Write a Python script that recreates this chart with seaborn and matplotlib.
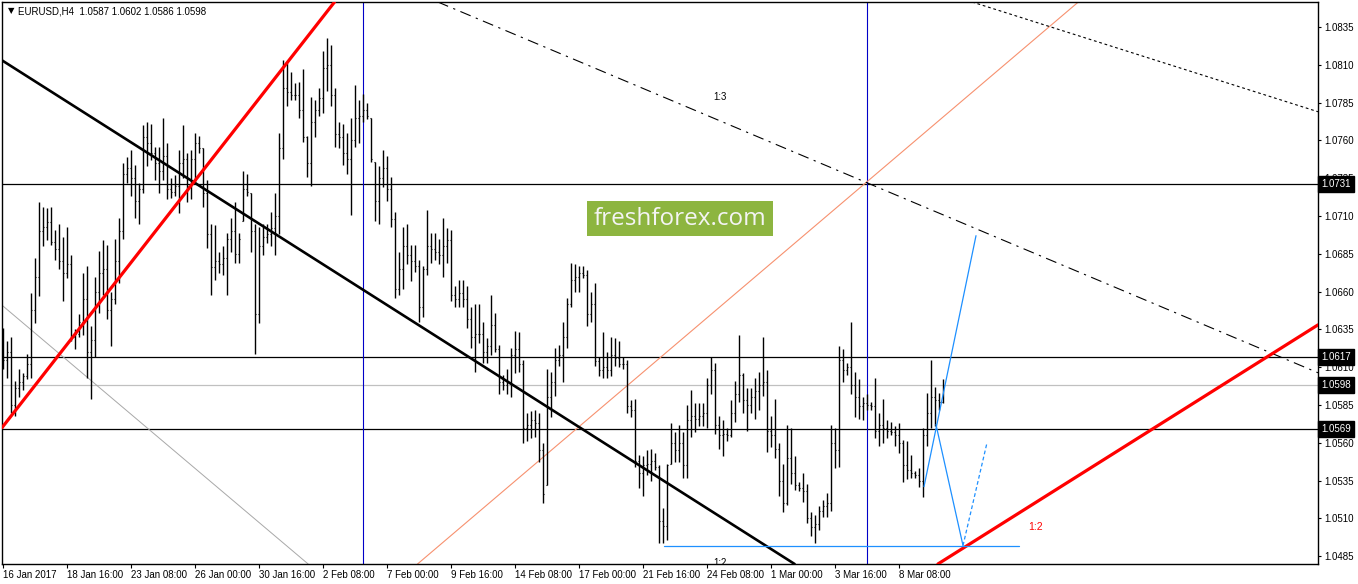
import numpy as np
import pandas as pd
import matplotlib
matplotlib.use("Agg")
import matplotlib.pyplot as plt
from matplotlib.patches import Rectangle
import seaborn as sns

# EURUSD H4 bars (one bar per 4 hours, weekends skipped)
highs = [1.0636, 1.0627, 1.0630, 1.0601, 1.0609, 1.0606, 1.0619, 1.0659, 1.0682, 1.0719,
         1.0716, 1.0715, 1.0716, 1.0701, 1.0705, 1.0696, 1.0703, 1.0684, 1.0635, 1.0645,
         1.0672, 1.0677, 1.0637, 1.0670, 1.0687, 1.0694, 1.0691, 1.0660, 1.0695, 1.0709,
         1.0745, 1.0749, 1.0754, 1.0744, 1.0732, 1.0770, 1.0772, 1.0771, 1.0756, 1.0756,
         1.0775, 1.0758, 1.0735, 1.0737, 1.0754, 1.0770, 1.0752, 1.0754, 1.0765, 1.0763,
         1.0755, 1.0734, 1.0705, 1.0704, 1.0686, 1.0690, 1.0699, 1.0709, 1.0719, 1.0699,
         1.0740, 1.0738, 1.0725, 1.0705, 1.0703, 1.0705, 1.0705, 1.0713, 1.0725, 1.0765,
         1.0813, 1.0811, 1.0805, 1.0798, 1.0799, 1.0807, 1.0763, 1.0789, 1.0787, 1.0795,
         1.0819, 1.0828, 1.0823, 1.0795, 1.0772, 1.0771, 1.0765, 1.0775, 1.0797, 1.0787,
         1.0791, 1.0785, 1.0775, 1.0746, 1.0743, 1.0754, 1.0750, 1.0736, 1.0713, 1.0686,
         1.0703, 1.0705, 1.0691, 1.0691, 1.0681, 1.0677, 1.0714, 1.0699, 1.0699, 1.0695,
         1.0709, 1.0702, 1.0701, 1.0664, 1.0668, 1.0668, 1.0664, 1.0650, 1.0652, 1.0652,
         1.0640, 1.0629, 1.0658, 1.0646, 1.0625, 1.0605, 1.0609, 1.0623, 1.0634, 1.0633,
         1.0615, 1.0580, 1.0581, 1.0582, 1.0580, 1.0560, 1.0609, 1.0607, 1.0623, 1.0625,
         1.0640, 1.0656, 1.0679, 1.0678, 1.0677, 1.0677, 1.0674, 1.0660, 1.0666, 1.0617,
         1.0633, 1.0620, 1.0630, 1.0629, 1.0627, 1.0617, 1.0615, 1.0588, 1.0589, 1.0552,
         1.0551, 1.0555, 1.0556, 1.0553, 1.0545, 1.0517, 1.0546, 1.0573, 1.0567, 1.0572,
         1.0567, 1.0585, 1.0595, 1.0586, 1.0586, 1.0586, 1.0603, 1.0617, 1.0613, 1.0578,
         1.0575, 1.0570, 1.0588, 1.0601, 1.0631, 1.0606, 1.0596, 1.0596, 1.0603, 1.0607,
         1.0630, 1.0608, 1.0578, 1.0589, 1.0560, 1.0546, 1.0572, 1.0570, 1.0551, 1.0534,
         1.0540, 1.0533, 1.0514, 1.0512, 1.0518, 1.0522, 1.0527, 1.0572, 1.0570, 1.0624,
         1.0622, 1.0613, 1.0640, 1.0607, 1.0602, 1.0590, 1.0592, 1.0587, 1.0603, 1.0580,
         1.0589, 1.0575, 1.0574, 1.0571, 1.0573, 1.0562, 1.0561, 1.0552, 1.0541, 1.0543,
         1.0570, 1.0593, 1.0615, 1.0597, 1.0593, 1.0602]

lows = [1.0609, 1.0603, 1.0580, 1.0578, 1.0590, 1.0595, 1.0602, 1.0603, 1.0639, 1.0657,
        1.0690, 1.0694, 1.0691, 1.0681, 1.0675, 1.0654, 1.0669, 1.0627, 1.0622, 1.0630,
        1.0631, 1.0603, 1.0589, 1.0617, 1.0646, 1.0658, 1.0642, 1.0624, 1.0652, 1.0666,
        1.0695, 1.0732, 1.0723, 1.0709, 1.0705, 1.0725, 1.0743, 1.0747, 1.0734, 1.0725,
        1.0734, 1.0721, 1.0722, 1.0723, 1.0712, 1.0735, 1.0719, 1.0721, 1.0732, 1.0752,
        1.0716, 1.0689, 1.0658, 1.0668, 1.0672, 1.0671, 1.0658, 1.0686, 1.0679, 1.0679,
        1.0707, 1.0723, 1.0686, 1.0619, 1.0639, 1.0684, 1.0692, 1.0690, 1.0684, 1.0698,
        1.0748, 1.0783, 1.0787, 1.0787, 1.0775, 1.0759, 1.0736, 1.0730, 1.0762, 1.0776,
        1.0778, 1.0793, 1.0783, 1.0756, 1.0755, 1.0744, 1.0738, 1.0711, 1.0756, 1.0758,
        1.0772, 1.0774, 1.0746, 1.0707, 1.0705, 1.0729, 1.0720, 1.0703, 1.0656, 1.0658,
        1.0662, 1.0678, 1.0667, 1.0673, 1.0640, 1.0643, 1.0671, 1.0679, 1.0681, 1.0678,
        1.0670, 1.0679, 1.0654, 1.0650, 1.0650, 1.0650, 1.0636, 1.0623, 1.0607, 1.0626,
        1.0613, 1.0613, 1.0618, 1.0620, 1.0592, 1.0595, 1.0592, 1.0590, 1.0606, 1.0607,
        1.0560, 1.0561, 1.0563, 1.0564, 1.0547, 1.0520, 1.0532, 1.0577, 1.0591, 1.0611,
        1.0600, 1.0623, 1.0650, 1.0660, 1.0660, 1.0669, 1.0637, 1.0640, 1.0611, 1.0604,
        1.0603, 1.0603, 1.0604, 1.0611, 1.0610, 1.0609, 1.0580, 1.0577, 1.0544, 1.0530,
        1.0525, 1.0539, 1.0535, 1.0542, 1.0494, 1.0494, 1.0496, 1.0546, 1.0547, 1.0547,
        1.0537, 1.0537, 1.0564, 1.0567, 1.0571, 1.0571, 1.0570, 1.0592, 1.0566, 1.0556,
        1.0551, 1.0561, 1.0564, 1.0574, 1.0587, 1.0580, 1.0568, 1.0580, 1.0576, 1.0582,
        1.0591, 1.0554, 1.0557, 1.0550, 1.0525, 1.0514, 1.0519, 1.0533, 1.0529, 1.0528,
        1.0521, 1.0507, 1.0498, 1.0494, 1.0502, 1.0511, 1.0511, 1.0515, 1.0543, 1.0544,
        1.0600, 1.0605, 1.0592, 1.0577, 1.0576, 1.0575, 1.0582, 1.0582, 1.0563, 1.0558,
        1.0560, 1.0563, 1.0565, 1.0558, 1.0553, 1.0534, 1.0536, 1.0537, 1.0537, 1.0531,
        1.0524, 1.0558, 1.0570, 1.0571, 1.0582, 1.0586]

closes = [1.0615, 1.0620, 1.0585, 1.0596, 1.0600, 1.0604, 1.0612, 1.0648, 1.0670, 1.0700,
          1.0703, 1.0706, 1.0693, 1.0688, 1.0680, 1.0672, 1.0678, 1.0630, 1.0632, 1.0640,
          1.0655, 1.0620, 1.0628, 1.0660, 1.0672, 1.0675, 1.0648, 1.0655, 1.0680, 1.0700,
          1.0738, 1.0742, 1.0735, 1.0720, 1.0728, 1.0762, 1.0758, 1.0752, 1.0745, 1.0740,
          1.0750, 1.0728, 1.0726, 1.0730, 1.0745, 1.0748, 1.0730, 1.0748, 1.0758, 1.0755,
          1.0725, 1.0698, 1.0676, 1.0680, 1.0678, 1.0682, 1.0695, 1.0700, 1.0685, 1.0695,
          1.0728, 1.0726, 1.0700, 1.0645, 1.0690, 1.0696, 1.0698, 1.0702, 1.0710, 1.0755,
          1.0795, 1.0792, 1.0790, 1.0790, 1.0780, 1.0762, 1.0745, 1.0772, 1.0780, 1.0788,
          1.0808, 1.0810, 1.0790, 1.0764, 1.0762, 1.0752, 1.0748, 1.0760, 1.0775, 1.0776,
          1.0780, 1.0776, 1.0748, 1.0720, 1.0735, 1.0742, 1.0728, 1.0708, 1.0662, 1.0675,
          1.0690, 1.0684, 1.0680, 1.0677, 1.0650, 1.0675, 1.0690, 1.0688, 1.0686, 1.0684,
          1.0690, 1.0694, 1.0658, 1.0655, 1.0659, 1.0655, 1.0642, 1.0630, 1.0632, 1.0632,
          1.0620, 1.0624, 1.0638, 1.0622, 1.0600, 1.0598, 1.0600, 1.0618, 1.0622, 1.0612,
          1.0570, 1.0572, 1.0575, 1.0573, 1.0555, 1.0526, 1.0590, 1.0600, 1.0615, 1.0618,
          1.0630, 1.0652, 1.0668, 1.0670, 1.0672, 1.0671, 1.0645, 1.0652, 1.0614, 1.0608,
          1.0610, 1.0608, 1.0618, 1.0616, 1.0612, 1.0612, 1.0584, 1.0582, 1.0548, 1.0540,
          1.0545, 1.0546, 1.0548, 1.0544, 1.0508, 1.0505, 1.0545, 1.0560, 1.0555, 1.0560,
          1.0545, 1.0575, 1.0578, 1.0576, 1.0578, 1.0580, 1.0598, 1.0608, 1.0572, 1.0565,
          1.0566, 1.0565, 1.0580, 1.0592, 1.0605, 1.0588, 1.0585, 1.0590, 1.0594, 1.0598,
          1.0600, 1.0568, 1.0565, 1.0556, 1.0535, 1.0520, 1.0550, 1.0540, 1.0532, 1.0530,
          1.0528, 1.0510, 1.0504, 1.0506, 1.0515, 1.0518, 1.0520, 1.0560, 1.0555, 1.0615,
          1.0608, 1.0610, 1.0598, 1.0590, 1.0584, 1.0586, 1.0585, 1.0584, 1.0568, 1.0572,
          1.0570, 1.0568, 1.0567, 1.0565, 1.0560, 1.0545, 1.0542, 1.0540, 1.0539, 1.0535,
          1.0565, 1.0580, 1.0590, 1.0588, 1.0587, 1.0598]
first_open = 1.0625

date_labels = ["16 Jan 2017", "18 Jan 16:00", "23 Jan 08:00", "26 Jan 00:00", "30 Jan 16:00",
               "2 Feb 08:00", "7 Feb 00:00", "9 Feb 16:00", "14 Feb 08:00", "17 Feb 00:00",
               "21 Feb 16:00", "24 Feb 08:00", "1 Mar 00:00", "3 Mar 16:00", "8 Mar 08:00"]
bars_per_label = 16

price_ticks = [1.0485, 1.0510, 1.0535, 1.0560, 1.0585, 1.0610, 1.0635, 1.0660,
               1.0685, 1.0710, 1.0735, 1.0760, 1.0785, 1.0810, 1.0835]

levels = [1.0731, 1.0617, 1.0569]
bid = 1.0598
vlines_at = [90, 216]

# drawn objects: (bar, price) anchor pairs
red_line_1 = [(-0.25, 1.0570), (83.0, 1.0852)]
red_line_2 = [(236.25, 1.0484), (328.75, 1.0638)]
black_line = [(-0.25, 1.0813), (196.0, 1.0483)]
gray_line = [(-0.25, 1.0651), (75.75, 1.0481)]
salmon_line = [(105.5, 1.0484), (211.25, 1.0722)]
fan_1_3 = [(109.25, 1.0851), (216.0, 1.0732)]
fan_top = [(243.0, 1.0851), (328.75, 1.0779)]
blue_base = [(165.25, 1.0492), (254.0, 1.0492)]
blue_up = [(230.25, 1.0531), (243.25, 1.0697)]
blue_down = [(233.25, 1.0572), (240.0, 1.0492)]
blue_next = [(240.0, 1.0492), (246.0, 1.0560)]

bars = pd.DataFrame({"high": highs, "low": lows, "close": closes})
bars["open"] = bars["close"].shift(1).fillna(first_open)
bars["open"] = bars["open"].clip(bars["low"], bars["high"])
bars["x"] = np.arange(len(bars))

sns.set_theme(style="white")
plt.rcParams["font.family"] = ["Liberation Sans", "DejaVu Sans"]

W, H = 1358, 584
fig = plt.figure(figsize=(W / 100, H / 100), dpi=100)
ax = fig.add_axes([2 / W, 1 - 564 / H, 1316 / W, 562 / H])
ax.set_facecolor("white")

ax.set_xlim(-0.25, 328.75)
ax.set_ylim(1.04798, 1.08516)

# level lines
for lv in levels:
    ax.axhline(lv, color="black", lw=0.9, zorder=2)
ax.axhline(bid, color="#c0c0c0", lw=0.9, zorder=2)
for v in vlines_at:
    ax.axvline(v, color="#0000c8", lw=0.8, zorder=2)

# trend lines
ax.axline(*gray_line, color="#a8a8a8", lw=0.7, zorder=2)
ax.axline(*salmon_line, color="#f7916f", lw=0.8, zorder=2)
ax.axline(*fan_1_3, color="black", lw=0.8, ls=(0, (10, 5, 2, 5)), zorder=2)
ax.axline(*fan_top, color="black", lw=0.8, ls=(0, (2.5, 2.5)), zorder=2)

# OHLC bars
ax.vlines(bars["x"], bars["low"], bars["high"], color="black", lw=1.0, zorder=3)
ax.hlines(bars["open"], bars["x"] - 0.35, bars["x"], color="black", lw=0.8, zorder=3)
ax.hlines(bars["close"], bars["x"], bars["x"] + 0.35, color="black", lw=0.8, zorder=3)

ax.axline(*black_line, color="black", lw=1.9, zorder=4)
ax.axline(*red_line_1, color="#ff0000", lw=2.3, zorder=4)
ax.axline(*red_line_2, color="#ff0000", lw=2.3, zorder=4)

for seg, style in [(blue_base, "-"), (blue_up, "-"), (blue_down, "-"), (blue_next, (0, (3, 2)))]:
    xs, ys = zip(*seg)
    ax.plot(xs, ys, color="#1e90ff", lw=0.9, ls=style, zorder=5)

ax.text(179.25, 1.0789, "1:3", fontsize=7, ha="center", va="center", color="black")
ax.text(258.25, 1.0504, "1:2", fontsize=7.5, ha="center", va="center", color="#ff0000")
ax.text(179.25, 1.0484, "1:2", fontsize=7, ha="center", va="top", color="black", clip_on=True)

# axes frame and ticks
for s in ax.spines.values():
    s.set_visible(True)
    s.set_color("black")
    s.set_linewidth(1.0)
ax.yaxis.tick_right()
ax.set_yticks(price_ticks)
ax.set_yticklabels([f"{p:.4f}" for p in price_ticks])
ax.tick_params(axis="y", which="major", right=True, left=False, length=2.5, width=0.8,
               pad=2, labelsize=7, colors="black")
ax.set_xticks([i * bars_per_label for i in range(len(date_labels))])
ax.set_xticklabels(date_labels)
ax.tick_params(axis="x", which="major", bottom=True, length=3, width=0.8, pad=1.5,
               labelsize=7, colors="black")
for lbl in ax.get_xticklabels():
    lbl.set_horizontalalignment("left")
ax.grid(False)

# price boxes on the right scale
ytrans = ax.get_yaxis_transform()
for lv in levels + [bid]:
    ax.text(1.0025, lv, f"{lv:.4f}", transform=ytrans, fontsize=7, color="white",
            ha="left", va="center", zorder=10, clip_on=False,
            bbox=dict(boxstyle="square,pad=0.3", fc="black", ec="black"))

# header
fig.text(8 / W, 1 - 11 / H, "\u25bc", fontsize=6, ha="left", va="center",
         family=["DejaVu Sans"], color="black")
fig.text(18 / W, 1 - 11 / H, "EURUSD,H4  1.0587 1.0602 1.0586 1.0598", fontsize=7,
         ha="left", va="center", color="black")

# watermark
fig.patches.append(Rectangle((587 / W, 1 - 236 / H), 186 / W, 35 / H,
                             transform=fig.transFigure, facecolor="#8db540",
                             edgecolor="none", zorder=5))
fig.text(680 / W, 1 - 219 / H, "freshforex.com", fontsize=17.5, ha="center", va="center",
         family=["Open Sans", "DejaVu Sans"], color="#f4f4f4", zorder=6)

fig.savefig("out.png", dpi=100, facecolor="white")
